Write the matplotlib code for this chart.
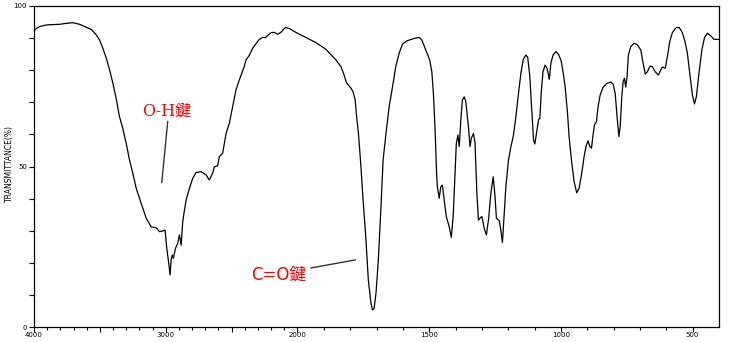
import numpy as np
import matplotlib
matplotlib.use("Agg")
import matplotlib.pyplot as plt
from matplotlib.ticker import FixedLocator

# IR spectrum: wavenumber (cm^-1) and transmittance (%)
wavenumber = [
    4000, 3982, 3957, 3906, 3805, 3755, 3705, 3654, 3603, 3565, 3527, 3502, 3477, 3451,
    3426, 3401, 3376, 3351, 3326, 3300, 3275, 3250, 3224, 3199, 3174, 3148, 3111, 3073,
    3048, 3023, 3005, 2992, 2977, 2967, 2959, 2951, 2942, 2926, 2909, 2896, 2883, 2871,
    2858, 2845, 2820, 2795, 2770, 2732, 2694, 2669, 2644, 2631, 2606, 2593, 2568, 2542,
    2517, 2492, 2467, 2442, 2404, 2391, 2366, 2341, 2290, 2265, 2245, 2201, 2176, 2151,
    2126, 2093, 2063, 2000, 1968, 1930, 1892, 1854, 1835, 1823, 1814, 1797, 1789, 1781,
    1776, 1768, 1759, 1751, 1740, 1731, 1721, 1715, 1709, 1702, 1693, 1683, 1675, 1664,
    1652, 1639, 1627, 1614, 1601, 1583, 1557, 1538, 1528, 1513, 1498, 1490, 1484, 1477,
    1472, 1469, 1462, 1456, 1450, 1443, 1435, 1424, 1416, 1409, 1401, 1397, 1391, 1386,
    1380, 1374, 1367, 1361, 1351, 1345, 1340, 1332, 1326, 1319, 1313, 1307, 1300, 1291,
    1283, 1275, 1266, 1257, 1250, 1245, 1234, 1228, 1222, 1216, 1209, 1199, 1190, 1181,
    1171, 1161, 1152, 1143, 1133, 1126, 1118, 1110, 1104, 1099, 1093, 1085, 1080, 1075,
    1068, 1060, 1053, 1047, 1044, 1038, 1030, 1019, 1010, 1000, 992, 984, 975, 969,
    960, 950, 940, 931, 921, 912, 905, 897, 890, 884, 878, 873, 865, 859,
    851, 840, 826, 811, 802, 794, 788, 780, 775, 769, 764, 759, 754, 749,
    744, 735, 722, 710, 697, 688, 680, 672, 661, 653, 642, 630, 621, 615,
    604, 596, 587, 577, 564, 551, 539, 529, 520, 511, 501, 493, 486, 476,
    465, 455, 444, 431, 419, 400,
]
transmittance = [
    92.3, 93.0, 93.6, 94.1, 94.3, 94.6, 94.8, 94.3, 93.4, 92.7, 91.0, 89.4, 86.8, 83.7,
    80.1, 75.9, 71.2, 65.5, 61.9, 57.2, 52.0, 47.9, 43.2, 40.1, 37.0, 33.9, 31.2, 30.9,
    29.7, 29.9, 30.2, 24.5, 19.8, 16.2, 20.9, 22.4, 21.4, 24.5, 26.1, 28.7, 25.5, 32.8,
    36.4, 39.6, 43.2, 46.3, 48.1, 48.4, 47.4, 45.8, 47.9, 49.9, 50.2, 53.1, 54.1, 60.3,
    63.5, 68.6, 73.8, 76.9, 81.1, 83.2, 84.6, 86.8, 89.6, 90.2, 90.1, 91.7, 91.8, 91.2,
    91.8, 93.3, 93.0, 91.5, 90.2, 88.6, 86.5, 83.2, 81.1, 78.5, 76.1, 74.4, 73.3, 70.7,
    66.0, 59.8, 49.9, 39.6, 27.1, 14.6, 7.4, 5.3, 5.8, 10.5, 20.9, 37.5, 52.0, 60.3,
    68.6, 74.9, 81.1, 85.3, 88.2, 89.2, 89.9, 90.2, 89.4, 86.3, 83.2, 79.5, 72.8, 60.3,
    47.9, 43.7, 40.1, 43.7, 44.2, 39.6, 34.4, 31.2, 27.9, 34.4, 49.9, 57.2, 59.8, 56.2,
    64.5, 70.7, 71.7, 70.2, 62.4, 56.2, 58.8, 60.3, 57.2, 41.6, 33.3, 33.9, 34.4, 30.7,
    28.7, 33.3, 41.6, 46.8, 40.6, 33.9, 33.1, 30.2, 26.3, 34.4, 43.7, 52.0, 56.2, 59.3,
    65.5, 72.8, 79.0, 83.4, 84.7, 84.0, 78.0, 66.6, 58.3, 57.0, 60.3, 64.5, 65.0, 72.8,
    79.5, 81.6, 80.6, 78.5, 77.2, 82.2, 84.7, 85.8, 85.0, 83.2, 79.5, 74.9, 66.6, 59.3,
    52.0, 45.3, 41.8, 43.2, 47.9, 53.1, 56.2, 58.0, 56.2, 55.7, 59.8, 62.9, 64.0, 68.6,
    72.3, 74.7, 75.9, 76.3, 75.7, 72.8, 66.6, 59.3, 62.4, 71.7, 76.4, 77.5, 74.7, 78.0,
    84.7, 87.3, 88.4, 87.9, 86.3, 82.2, 78.8, 79.5, 81.3, 81.1, 79.5, 78.5, 80.1, 81.0,
    80.6, 84.2, 88.9, 91.7, 93.2, 93.3, 91.7, 88.9, 85.3, 79.0, 72.3, 69.5, 71.7, 79.0,
    86.3, 90.2, 91.5, 90.7, 89.6, 89.6,
]

x_major_labeled = [4000, 3000, 2000, 1500, 1000, 500]
x_major_unlabeled = [3500, 2500]
y_labels = [0, 50, 100]

oh_label = "O-H鍵"
co_label = "C=O鍵"
y_title = "TRANSMITTANCE(%)"


def fwd(w):
    w = np.asarray(w, dtype=float)
    return np.where(w >= 2000, w, 2.0 * w - 2000.0)


def inv(u):
    u = np.asarray(u, dtype=float)
    return np.where(u >= 2000, u, (u + 2000.0) / 2.0)


fig = plt.figure(figsize=(7.33, 3.42), dpi=100)
W, H = 733, 342
ax = fig.add_axes([34 / W, (H - 327) / H, (719 - 34) / W, (327 - 6) / H])
ax.set_xscale("function", functions=(fwd, inv))
ax.plot(wavenumber, transmittance, color="black", linewidth=0.9)
ax.set_xlim(4000, 400)
ax.set_ylim(0, 100)

for s in ax.spines.values():
    s.set_linewidth(0.9)
    s.set_color("black")

# x ticks
major = sorted(x_major_labeled + x_major_unlabeled, reverse=True)
ax.xaxis.set_major_locator(FixedLocator(major))
ax.set_xticklabels([str(v) if v in x_major_labeled else "" for v in major])
minor = [v for v in range(3900, 400, -100) if v not in major]
ax.xaxis.set_minor_locator(FixedLocator(minor))
ax.tick_params(axis="x", which="major", length=3.4, width=0.8, direction="out",
               labelsize=5, pad=0.5)
ax.tick_params(axis="x", which="minor", length=1.8, width=0.8, direction="out")

# y ticks
ax.yaxis.set_major_locator(FixedLocator(list(range(0, 101, 10))))
ax.set_yticklabels([str(v) if v in y_labels else "" for v in range(0, 101, 10)])
ax.tick_params(axis="y", which="major", length=3.6, width=0.8, direction="out",
               labelsize=5, pad=1.5)

fig.text(9 / W, (H - 163) / H, y_title, rotation=90, fontsize=5.5,
         ha="center", va="center", family="DejaVu Sans")

fams = ["DejaVu Serif", "Noto Sans CJK JP"]
ax.text(2990, 67.3, oh_label, color="red", fontsize=11.5, ha="center", va="center",
        family=fams)
ax.plot([2985, 3030], [64.0, 45.0], color="#333333", linewidth=1.0)

ax.text(2146, 16.3, co_label, color="red", fontsize=12, ha="center", va="center",
        family=["DejaVu Sans", "Noto Sans CJK JP"])
ax.plot([1948, 1781], [18.4, 20.9], color="#333333", linewidth=1.0)

fig.savefig("out.png", dpi=100)
